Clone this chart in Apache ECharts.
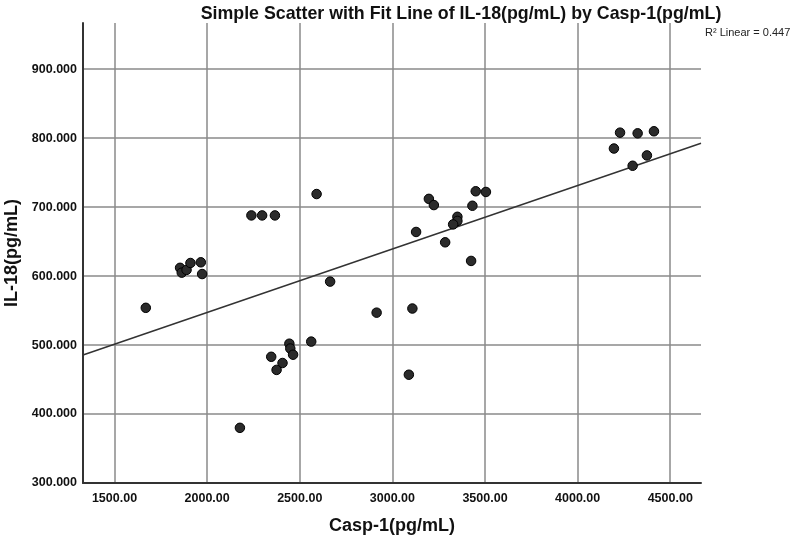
<!DOCTYPE html>
<html>
<head>
    <meta charset="utf-8">
    <script src="https://cdn.jsdelivr.net/npm/echarts@6/dist/echarts.min.js"></script>
</head>
<body style="margin:0">
    <div id="main" style="width: 800px;height:541px;"></div>
    <script type="text/javascript">
        // Casp-1 (x) and IL-18 (y)
        var casp1 = [1669, 1854, 1863, 1889, 1910, 1966, 1973, 2239, 2297, 2366,
                     2591, 2444, 2449, 2464, 2346, 2407, 2375, 2562, 2664, 2915,
                     2177, 3108, 3089, 3197, 3224, 3432, 3450, 3505, 3351, 3351,
                     3328, 3128, 3285, 3425, 4229, 4324, 4412, 4196, 4374, 4297];
        var il18 = [554, 612, 605, 609, 619, 620, 603, 688, 688, 688,
                    719, 502, 495, 486, 483, 474, 464, 505, 592, 547,
                    380, 553, 457, 712, 703, 702, 723, 722, 686, 680,
                    675, 664, 649, 622, 808, 807, 810, 785, 775, 760];
        // fit line end points at the axis edges
        var fitX = [1330, 4666];
        var fitY = [485.5, 792.7];
        var xTicks = [1500, 2000, 2500, 3000, 3500, 4000, 4500];
        var yTicks = [300, 400, 500, 600, 700, 800, 900];

        var myChart = echarts.init(document.getElementById('main'));
        var font = "'Liberation Sans', Arial, sans-serif";

        var points = casp1.map(function (x, i) { return [x, il18[i]]; });
        var fit = fitX.map(function (x, i) { return [x, fitY[i]]; });

        option = {
            animation: false,
            backgroundColor: '#fff',
            title: {
                text: 'Simple Scatter with Fit Line of IL-18(pg/mL) by Casp-1(pg/mL)',
                left: 456,
                textAlign: 'center',
                top: 0,
                textStyle: { fontFamily: font, fontSize: 17.8, fontWeight: 'bold', color: '#111' }
            },
            graphic: [{
                type: 'text',
                left: 705,
                top: 27,
                style: { text: 'R\u00b2 Linear = 0.447', font: '11px ' + font, fill: '#222' }
            }],
            grid: { left: 83, right: 99, top: 23, bottom: 58, outerBoundsMode: 'none' },
            xAxis: {
                type: 'value',
                min: 1330,
                max: 4666,
                name: 'Casp-1(pg/mL)',
                nameLocation: 'middle',
                nameGap: 34,
                nameTextStyle: { fontFamily: font, fontSize: 18, fontWeight: 'bold', color: '#111' },
                axisLine: { lineStyle: { color: '#333', width: 2 } },
                axisTick: { show: false, customValues: xTicks },
                axisLabel: {
                    customValues: xTicks,
                    margin: 9,
                    fontFamily: font, fontSize: 12.5, fontWeight: 'bold', color: '#111',
                    formatter: function (v) { return v.toFixed(2); }
                },
                splitLine: { show: true, lineStyle: { color: '#8a8a8a', width: 1.5 } }
            },
            yAxis: {
                type: 'value',
                min: 300,
                max: 967,
                name: 'IL-18(pg/mL)',
                nameLocation: 'middle',
                nameGap: 61,
                nameTextStyle: { fontFamily: font, fontSize: 18, fontWeight: 'bold', color: '#111' },
                axisLine: { show: true, lineStyle: { color: '#333', width: 2 } },
                axisTick: { show: false, customValues: yTicks },
                axisLabel: {
                    customValues: yTicks,
                    margin: 6,
                    fontFamily: font, fontSize: 12.5, fontWeight: 'bold', color: '#111',
                    formatter: function (v) { return v.toFixed(3); }
                },
                splitLine: { show: true, lineStyle: { color: '#8a8a8a', width: 1.5 } }
            },
            series: [
                {
                    type: 'line',
                    data: fit,
                    symbol: 'none',
                    lineStyle: { color: '#333', width: 1.5 },
                    z: 3
                },
                {
                    type: 'scatter',
                    data: points,
                    symbolSize: 9.5,
                    itemStyle: { color: '#2b2b2b', borderColor: '#000', borderWidth: 1, opacity: 1 },
                    z: 4
                }
            ]
        };

        myChart.setOption(option);
    </script>
</body>
</html>
